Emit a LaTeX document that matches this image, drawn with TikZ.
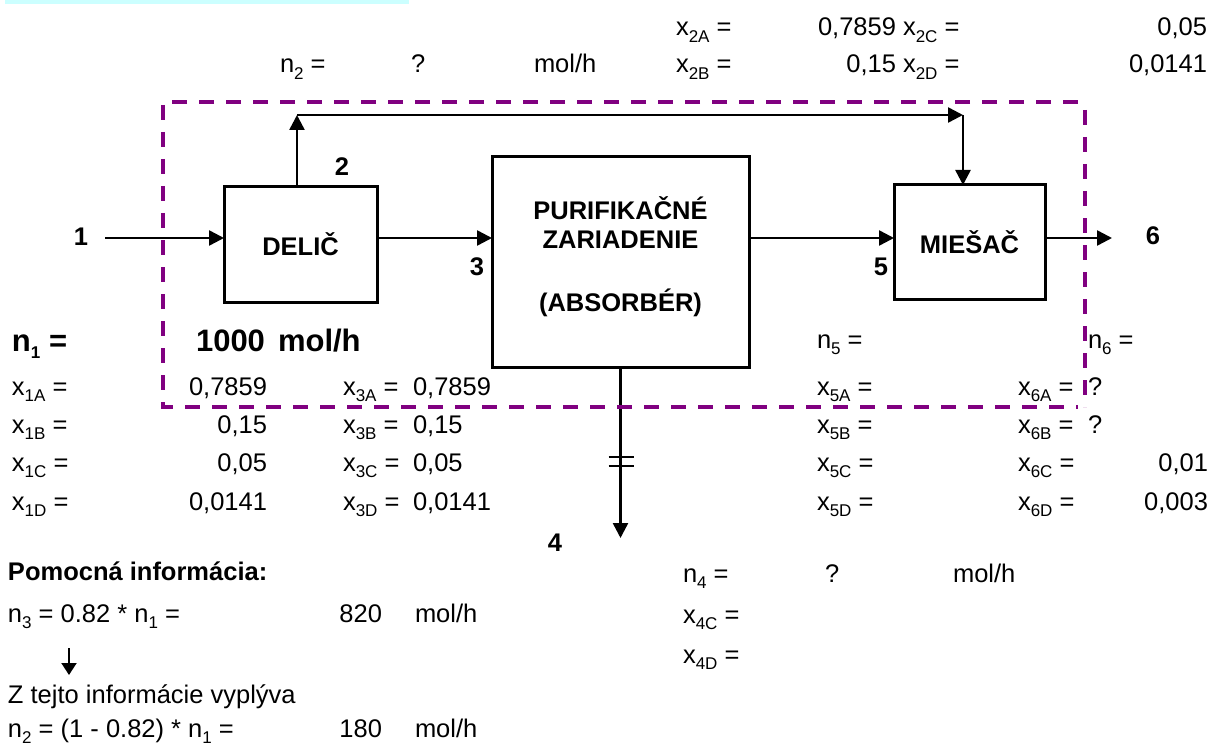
\documentclass[tikz,border=0pt]{standalone}
\usepackage{fontspec}
\setmainfont{Liberation Sans}
\usetikzlibrary{arrows.meta,calc}
\definecolor{purp}{RGB}{128,0,128}
\definecolor{cyanbar}{RGB}{204,255,255}
\newcommand{\sbs}[1]{\raisebox{-0.25em}{\fontsize{17}{17}\selectfont #1}}
\begin{document}
\begin{tikzpicture}[x=1pt,y=-1pt,
  every node/.style={inner sep=0pt,outer sep=0pt,font=\fontsize{25.5}{30}\selectfont},
  lt/.style={anchor=base west,yshift=-8pt},
  rt/.style={anchor=base east,yshift=-8pt},
  lbl/.style={font=\fontsize{25.5}{30}\selectfont\bfseries},
  bigl/.style={anchor=base west,yshift=-11pt,font=\fontsize{31}{36}\selectfont\bfseries},
  bigr/.style={anchor=base east,yshift=-11pt,font=\fontsize{31}{36}\selectfont\bfseries},
  unit/.style={draw,line width=3pt,align=center,font=\fontsize{25.5}{32}\selectfont\bfseries},
  arr/.style={line width=2.5pt,-{Triangle[length=15pt,width=15pt]}},
  smallarr/.style={line width=2pt,-{Triangle[length=12pt,width=15pt]}},
  bar/.style={line width=2.5pt},
  frame/.style={draw=purp,line width=4pt,dash pattern=on 15pt off 12pt}
]
\useasboundingbox (0,0) rectangle (1219,749);
\fill[cyanbar] (5,0) rectangle (409,4);

% units
\node[unit,minimum width=153pt,minimum height=115pt] (delic) at (300.5,244.5) {DELIČ};
\node[unit,minimum width=257pt,minimum height=210pt] (purif) at (620.5,262) {};
\node[lbl] (pt1) at (620.5,208) {PURIFIKAČNÉ};
\node[lbl] (pt2) at (620.5,240) {ZARIADENIE};
\node[lbl] (pt3) at (620.5,303) {(ABSORBÉR)};
\node[unit,minimum width=151pt,minimum height=114pt] (miesac) at (969.5,242) {MIEŠAČ};

% streams
\coordinate (s1) at (105,238);
\coordinate (s6) at (1112,238);
\coordinate (c1) at (297,115);
\coordinate (c2) at (963,115);
\coordinate (s4) at (620.5,538);
\draw[arr] (s1) -- (s1 -| delic.west);
\draw[arr] (delic.east |- s1) -- (purif.west |- s1);
\draw[arr] (purif.east |- s1) -- (miesac.west |- s1);
\draw[arr] (miesac.east |- s6) -- (s6);
\draw[arr] (c1 |- delic.north) -- (c1);
\draw[arr] (c1) -- (c2);
\draw[arr] (c2) -- (c2 |- miesac.north);
\draw[arr] (purif.south) -- (s4);
\draw[bar] ($(s4 |- 0,457)+(-12,0)$) -- +(25,0);
\draw[bar] ($(s4 |- 0,466)+(-12,0)$) -- +(25,0);

% stream labels
\node[lbl] (l1) at (81,237) {1};
\node[lbl] (l2) at (342,167) {2};
\node[lbl] (l3) at (477,267) {3};
\node[lbl] (l4) at (555,543) {4};
\node[lbl] (l5) at (881,267) {5};
\node[lbl] (l6) at (1153,236) {6};

% top data
\node[lt] (x2a) at (676,28) {x\sbs{2A} =};
\node[rt] (v2a) at (896,28) {0,7859};
\node[lt] (x2c) at (903,28) {x\sbs{2C} =};
\node[rt] (v2c) at (1207,28) {0,05};
\node[lt] (n2t) at (280,65) {n\sbs{2} =};
\node[lt] (q2) at (411,65) {?};
\node[lt] (u2) at (534,65) {mol/h};
\node[lt] (x2b) at (676,65) {x\sbs{2B} =};
\node[rt] (v2b) at (896,65) {0,15};
\node[lt] (x2d) at (903,65) {x\sbs{2D} =};
\node[rt] (v2d) at (1207,65) {0,0141};

% stream 1,3,5,6 data
\node[bigl] (n1t) at (12,340) {n\sbs{1} =};
\node[bigr] (v1) at (265,340) {1000};
\node[bigl] (u1) at (278,340) {mol/h};
\node[lt] (n5t) at (817,340) {n\sbs{5} =};
\node[lt] (n6t) at (1088,340) {n\sbs{6} =};

\node[lt] (x1a) at (12,387) {x\sbs{1A} =};
\node[rt] (v1a) at (267,387) {0,7859};
\node[lt] (x3a) at (343,387) {x\sbs{3A} =};
\node[lt] (v3a) at (413,387) {0,7859};
\node[lt] (x5a) at (817,387) {x\sbs{5A} =};
\node[lt] (x6a) at (1018,387) {x\sbs{6A} =};
\node[lt] (v6a) at (1088,387) {?};

\node[lt] (x1b) at (12,425) {x\sbs{1B} =};
\node[rt] (v1b) at (267,425) {0,15};
\node[lt] (x3b) at (343,425) {x\sbs{3B} =};
\node[lt] (v3b) at (413,425) {0,15};
\node[lt] (x5b) at (817,425) {x\sbs{5B} =};
\node[lt] (x6b) at (1018,425) {x\sbs{6B} =};
\node[lt] (v6b) at (1088,425) {?};

\node[lt] (x1c) at (12,463) {x\sbs{1C} =};
\node[rt] (v1c) at (267,463) {0,05};
\node[lt] (x3c) at (343,463) {x\sbs{3C} =};
\node[lt] (v3c) at (413,463) {0,05};
\node[lt] (x5c) at (817,463) {x\sbs{5C} =};
\node[lt] (x6c) at (1018,463) {x\sbs{6C} =};
\node[rt] (v6c) at (1208,463) {0,01};

\node[lt] (x1d) at (12,502) {x\sbs{1D} =};
\node[rt] (v1d) at (267,502) {0,0141};
\node[lt] (x3d) at (343,502) {x\sbs{3D} =};
\node[lt] (v3d) at (413,502) {0,0141};
\node[lt] (x5d) at (817,502) {x\sbs{5D} =};
\node[lt] (x6d) at (1018,502) {x\sbs{6D} =};
\node[rt] (v6d) at (1208,502) {0,003};

% bottom
\node[lt,lbl] (pom) at (8,572) {Pomocná informácia:};
\node[lt] (n4t) at (683,574) {n\sbs{4} =};
\node[lt] (q4) at (825,574) {?};
\node[lt] (u4) at (953,574) {mol/h};
\node[lt] (n3t) at (8,614) {n\sbs{3} = 0.82 * n\sbs{1} =};
\node[rt] (v3) at (382,614) {820};
\node[lt] (u3) at (415,614) {mol/h};
\node[lt] (x4c) at (683,615) {x\sbs{4C} =};
\node[lt] (x4d) at (683,655) {x\sbs{4D} =};
\coordinate (a1) at (69,648);
\coordinate (a2) at (69,675);
\draw[smallarr] (a1) -- (a2);
\node[lt] (zt) at (8,695) {Z tejto informácie vyplýva};
\node[lt] (n2b) at (8,729) {n\sbs{2} = (1 - 0.82) * n\sbs{1} =};
\node[rt] (v2) at (382,729) {180};
\node[lt] (u2b) at (415,729) {mol/h};

% balance envelope
\draw[frame] (1078,102) -- (163,102) -- (163,407) -- (1078,407);
\draw[frame] (1085,110) -- (1085,407);
\end{tikzpicture}
\end{document}
